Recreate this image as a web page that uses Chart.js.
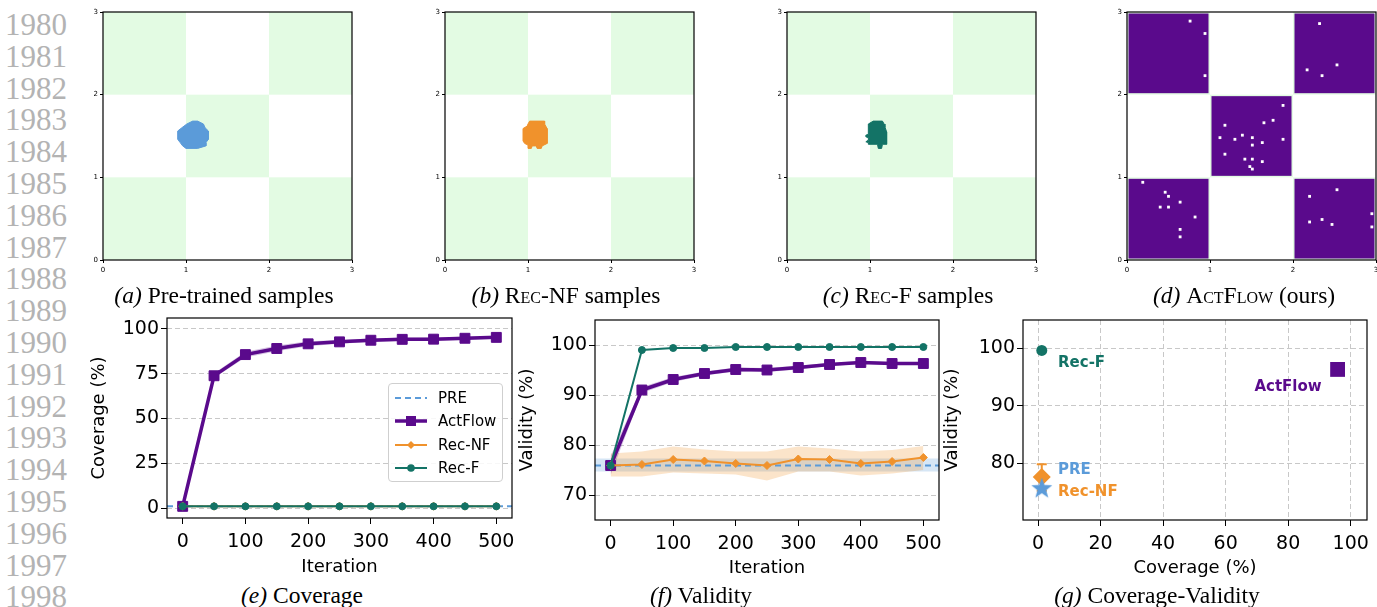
<!DOCTYPE html>
<html>
<head>
<meta charset="utf-8">
<script src="https://cdn.jsdelivr.net/npm/chart.js@4.4.1/dist/chart.umd.min.js"></script>
<style>
  body { margin: 0; background: #fff; }
  #page { position: relative; width: 1377px; height: 607px; overflow: hidden; background: #fff; }
  canvas { position: absolute; }
  #lineNo { position: absolute; left: 5px; top: 9px; font: 31px 'Liberation Serif', serif; line-height: 31.8px; color: #b3b3b3; }
  .cap { position: absolute; font: 23.5px 'Liberation Serif', serif; line-height: 1; white-space: nowrap; transform: translateX(-50%); color: #000; }
  .sc { font-variant: small-caps; }
  #legend { position: absolute; left: 388px; top: 383px; width: 113px; height: 97px; border: 1px solid #cfcfcf; border-radius: 4px; background: rgba(255,255,255,0.85); font: 15px 'DejaVu Sans', sans-serif; }
  #legend .row { position: absolute; left: 6px; height: 20px; display: flex; align-items: center; }
  #legend svg { margin-right: 11px; }
</style>
</head>
<body>
<div id="page">
  <div id="lineNo"></div>
  <canvas id="chartA"></canvas>
  <canvas id="chartB"></canvas>
  <canvas id="chartC"></canvas>
  <canvas id="chartD"></canvas>
  <canvas id="chartE"></canvas>
  <canvas id="chartF"></canvas>
  <canvas id="chartG"></canvas>
  <div id="legend"></div>
  <div class="cap" style="left:224px;top:284px"><i>(a)</i> Pre-trained samples</div>
  <div class="cap" style="left:566px;top:284px"><i>(b)</i> <span class="sc">Rec-NF</span> samples</div>
  <div class="cap" style="left:908px;top:284px"><i>(c)</i> <span class="sc">Rec-F</span> samples</div>
  <div class="cap" style="left:1244px;top:284px"><i>(d)</i> <span class="sc">ActFlow</span> (ours)</div>
  <div class="cap" style="left:302px;top:584px"><i>(e)</i> Coverage</div>
  <div class="cap" style="left:701px;top:584px"><i>(f)</i> Validity</div>
  <div class="cap" style="left:1157px;top:584px"><i>(g)</i> Coverage-Validity</div>
</div>
<script>
'use strict';

const lineNumbers = ['1980', '1981', '1982', '1983', '1984', '1985', '1986', '1987', '1988', '1989',
                     '1990', '1991', '1992', '1993', '1994', '1995', '1996', '1997', '1998'];

// 위쪽: 체커보드 샘플
const unitTicks    = [0, 1, 2, 3];
const checkerCells = [[0, 0], [2, 0], [1, 1], [0, 2], [2, 2]];

const blobPre = [[1.08, 1.68], [1.14, 1.68], [1.21, 1.645], [1.23, 1.60], [1.27, 1.56], [1.27, 1.46],
  [1.24, 1.42], [1.24, 1.38], [1.14, 1.35], [1.00, 1.35], [0.96, 1.38], [0.93, 1.42], [0.90, 1.46],
  [0.90, 1.56], [0.95, 1.60], [1.01, 1.645]];
const blobRecNF = [[1.02, 1.68], [1.20, 1.68], [1.20, 1.645], [1.23, 1.59], [1.23, 1.41], [1.17, 1.38],
  [1.16, 1.35], [1.11, 1.35], [1.10, 1.38], [1.05, 1.38], [1.04, 1.35], [1.00, 1.35], [1.00, 1.39],
  [0.96, 1.41], [0.94, 1.44], [0.94, 1.59], [0.99, 1.62], [1.00, 1.645]];
const blobRecF = [[1.04, 1.68], [1.15, 1.68], [1.17, 1.645], [1.18, 1.61], [1.20, 1.55], [1.20, 1.40],
  [1.15, 1.40], [1.14, 1.35], [1.10, 1.35], [1.09, 1.40], [0.98, 1.40], [0.98, 1.42], [0.95, 1.43],
  [0.98, 1.45], [0.98, 1.48], [0.95, 1.49], [0.95, 1.51], [0.98, 1.52], [0.98, 1.645]];
const actflowHoles = [[0.76, 2.89], [2.32, 2.86], [2.53, 2.36], [2.17, 2.30], [2.35, 2.23], [0.94, 2.74],
  [0.94, 2.23], [1.18, 1.63], [1.76, 1.69], [1.65, 1.66], [1.39, 1.51], [1.51, 1.48], [1.30, 1.46],
  [1.12, 1.48], [1.88, 1.46], [1.63, 1.42], [1.51, 1.39], [1.18, 1.28], [1.42, 1.22], [1.51, 1.22],
  [1.63, 1.19], [1.48, 1.13], [1.51, 1.10], [1.88, 1.87], [0.19, 0.94], [0.46, 0.82], [0.50, 0.77],
  [0.40, 0.64], [0.50, 0.64], [0.64, 0.70], [0.82, 0.52], [0.64, 0.37], [0.64, 0.28], [2.53, 0.85],
  [2.20, 0.77], [2.35, 0.49], [2.20, 0.46], [2.47, 0.43], [2.95, 0.56], [2.95, 0.40]];

// 아래쪽: 반복별 coverage / validity
const iterations = [0, 50, 100, 150, 200, 250, 300, 350, 400, 450, 500];
const iterLimits = [-25, 525];
const iterTicks  = [0, 100, 200, 300, 400, 500];

const covTicks     = [0, 25, 50, 75, 100];
const covActFlow   = [1.0, 73.8, 85.6, 89.0, 91.6, 92.7, 93.6, 94.1, 94.2, 94.7, 95.2];
const covActFlowLo = [0.8, 72.5, 84.0, 87.5, 90.3, 91.6, 92.6, 93.2, 93.3, 93.8, 94.4];
const covActFlowHi = [1.2, 75.2, 87.2, 90.6, 93.0, 93.8, 94.6, 95.0, 95.1, 95.6, 96.0];
const covRecNF     = [1.1, 1.1, 1.1, 1.1, 1.1, 1.1, 1.1, 1.1, 1.1, 1.1, 1.1];
const covRecF      = [1.0, 1.0, 1.0, 1.0, 1.0, 1.0, 1.0, 1.0, 1.0, 1.0, 1.0];
const covPre       = 1.1;

const valTicks     = [70, 80, 90, 100];
const valActFlow   = [75.9, 91.0, 93.1, 94.3, 95.1, 95.0, 95.5, 96.1, 96.5, 96.3, 96.3];
const valActFlowLo = [74.0, 90.4, 92.6, 93.9, 94.7, 94.6, 95.1, 95.8, 96.2, 96.0, 96.0];
const valActFlowHi = [77.8, 91.6, 93.6, 94.7, 95.5, 95.4, 95.9, 96.4, 96.8, 96.6, 96.6];
const valRecF      = [75.9, 99.0, 99.4, 99.4, 99.6, 99.6, 99.6, 99.6, 99.6, 99.6, 99.6];
const valRecNF     = [75.9, 76.1, 77.1, 76.8, 76.3, 75.9, 77.2, 77.1, 76.3, 76.7, 77.5];
const valRecNFLo   = [73.7, 73.7, 74.5, 74.3, 74.1, 72.9, 74.7, 74.7, 73.9, 74.3, 75.0];
const valRecNFHi   = [78.3, 78.7, 79.7, 79.1, 78.7, 78.7, 79.7, 79.3, 78.7, 79.0, 79.8];
const valPre       = 75.9;
const valPreBand   = [74.7, 77.3];

// (g) coverage-validity
const cvMethods  = ['PRE', 'ActFlow', 'Rec-NF', 'Rec-F'];
const cvCoverage = [1.2, 95.8, 1.2, 1.2];
const cvValidity = [75.8, 96.3, 77.6, 99.6];
const cvRecNFErr = [75.2, 79.8];
const cvLabelX   = [6.4, 69.2, 6.4, 6.4];
const cvLabelY   = [78.8, 93.3, 75.0, 97.4];
const cvTicksX   = [0, 20, 40, 60, 80, 100];
const cvTicksY   = [80, 90, 100];

const C_PURPLE = '#5a0a8c';
const C_TEAL   = '#137366';
const C_ORANGE = '#f0922c';
const C_BLUE   = '#5b9bd9';
const C_CELL   = '#e3fbe3';
const C_GRID   = '#c8c8c8';
const methodColors = [C_BLUE, C_PURPLE, C_ORANGE, C_TEAL];

Chart.defaults.font.family = "'DejaVu Sans', sans-serif";
Chart.defaults.color = '#000';

// 줄번호
document.getElementById('lineNo').innerHTML = lineNumbers.map(n => `<div>${n}</div>`).join('');

const pts  = (xs, ys) => xs.map((x, i) => ({ x, y: ys[i] }));
const poly = arr => arr.concat([arr[0]]).map(([x, y]) => ({ x, y }));

function place(id, left, top, width, height) {
  const cv = document.getElementById(id);
  cv.width = width;
  cv.height = height;
  cv.style.left = left + 'px';
  cv.style.top = top + 'px';
  return cv;
}

function axisOpts(cfg) {
  return {
    type: 'linear',
    min: cfg.min, max: cfg.max,
    afterBuildTicks: s => { s.ticks = cfg.ticks.map(v => ({ value: v })); },
    afterFit: s => { if (s.isHorizontal()) s.height = cfg.size; else s.width = cfg.size; },
    border: { display: false, dash: [5, 3] },
    grid: {
      drawOnChartArea: !!cfg.grid,
      color: C_GRID, lineWidth: 1,
      tickLength: cfg.tickLength, tickColor: '#000', tickWidth: 1, tickBorderDash: []
    },
    ticks: { color: '#000', font: { size: cfg.fontSize }, padding: cfg.pad, maxRotation: 0, autoSkip: false },
    title: cfg.title
      ? { display: true, text: cfg.title, color: '#000', font: { size: 18 }, padding: { top: 1, bottom: 0 } }
      : { display: false }
  };
}

// 축 테두리 (4면)
const framePlugin = {
  id: 'frame',
  afterDatasetsDraw(chart) {
    const { ctx, chartArea: a } = chart;
    ctx.save();
    ctx.strokeStyle = '#000';
    ctx.lineWidth = 1.2;
    ctx.strokeRect(a.left, a.top, a.right - a.left, a.bottom - a.top);
    ctx.restore();
  }
};

function makeChecker(layers) {
  return {
    id: 'checker',
    beforeDatasetsDraw(chart) {
      const { ctx, scales: { x, y } } = chart;
      ctx.save();
      layers.forEach(layer => {
        ctx.fillStyle = layer.color;
        checkerCells.forEach(([cx, cy]) => {
          const l = x.getPixelForValue(cx + layer.inset);
          const r = x.getPixelForValue(cx + 1 - layer.inset);
          const t = y.getPixelForValue(cy + 1 - layer.inset);
          const b = y.getPixelForValue(cy + layer.inset);
          ctx.fillRect(l, t, r - l, b - t);
        });
      });
      ctx.restore();
    }
  };
}

const baseOpts = {
  responsive: false,
  animation: false,
  devicePixelRatio: 1,
  events: [],
};

// 위쪽 패널
function topChart(id, plotLeft, layers, datasets) {
  const cv = place(id, plotLeft - 20, 0, 277, 276);
  return new Chart(cv, {
    type: 'line',
    data: { datasets },
    options: {
      ...baseOpts,
      layout: { autoPadding: false, padding: { top: 12, right: 8, left: 0, bottom: 0 } },
      plugins: { legend: { display: false }, tooltip: { enabled: false } },
      scales: {
        x: axisOpts({ min: 0, max: 3, ticks: unitTicks, size: 16, fontSize: 7, tickLength: 3, pad: 3 }),
        y: axisOpts({ min: 0, max: 3, ticks: unitTicks, size: 20, fontSize: 7, tickLength: 3, pad: 2 })
      }
    },
    plugins: [makeChecker(layers), framePlugin]
  });
}

function blobSet(points, color) {
  return {
    data: poly(points), fill: 'shape', backgroundColor: color, borderColor: color,
    borderWidth: 1, pointRadius: 0, tension: 0
  };
}

const greenLayer = [{ color: C_CELL, inset: 0 }];
topChart('chartA', 103, greenLayer, [blobSet(blobPre, C_BLUE)]);
topChart('chartB', 445, greenLayer, [blobSet(blobRecNF, C_ORANGE)]);
topChart('chartC', 787, greenLayer, [blobSet(blobRecF, C_TEAL)]);
topChart('chartD', 1127, [{ color: C_CELL, inset: 0 }, { color: C_PURPLE, inset: 0.018 }], [{
  data: actflowHoles.map(([x, y]) => ({ x, y })), showLine: false,
  pointStyle: 'rect', pointRadius: 2, borderWidth: 0, backgroundColor: '#fff'
}]);

// 아래쪽 (e), (f)
function band(hi, lo, color, order) {
  return [
    { data: hi, fill: '+1', backgroundColor: color, borderWidth: 0, pointRadius: 0, order },
    { data: lo, fill: false, borderWidth: 0, pointRadius: 0, order: order + 1 }
  ];
}
function series(data, color, width, style, radius, order) {
  return {
    data, borderColor: color, backgroundColor: color, borderWidth: width,
    pointStyle: style, pointRadius: radius, pointBorderWidth: 1, fill: false, tension: 0, order
  };
}
function preLine(value, order) {
  return {
    data: iterLimits.map(x => ({ x, y: value })), borderColor: C_BLUE, borderWidth: 2,
    borderDash: [6, 4], pointRadius: 0, fill: false, order
  };
}

function iterChart(id, left, width, height, padTop, yWidth, yCfg, datasets) {
  const cv = place(id, left, 300, width, height);
  return new Chart(cv, {
    type: 'line',
    data: { datasets },
    options: {
      ...baseOpts,
      layout: { autoPadding: false, padding: { top: padTop, right: 18, left: 0, bottom: 0 } },
      plugins: { legend: { display: false }, tooltip: { enabled: false } },
      scales: {
        x: axisOpts({ min: iterLimits[0], max: iterLimits[1], ticks: iterTicks, size: height - padTop - 200,
                      fontSize: 19, tickLength: 6, pad: 7, title: 'Iteration' }),
        y: axisOpts({ ...yCfg, size: yWidth, fontSize: 19, tickLength: 6, pad: 2, grid: true })
      }
    },
    plugins: [framePlugin]
  });
}

iterChart('chartE', 88, 442, 278, 18, 79,
  { min: -5.5, max: 106, ticks: covTicks, title: 'Coverage (%)' },
  [
    ...band(pts(iterations, covActFlowHi), pts(iterations, covActFlowLo), 'rgba(90,10,140,0.25)', 20),
    preLine(covPre, 5),
    series(pts(iterations, covActFlow), C_PURPLE, 3.5, 'rect', 7, 4),
    series(pts(iterations, covRecNF), C_ORANGE, 2, 'rectRot', 4, 3),
    series(pts(iterations, covRecF), C_TEAL, 2, 'circle', 3.5, 2)
  ]);

iterChart('chartF', 516, 441, 279, 20, 79,
  { min: 65, max: 105, ticks: valTicks, title: 'Validity (%)' },
  [
    ...band(iterLimits.map(x => ({ x, y: valPreBand[1] })), iterLimits.map(x => ({ x, y: valPreBand[0] })),
            'rgba(91,155,217,0.25)', 30),
    ...band(pts(iterations, valRecNFHi), pts(iterations, valRecNFLo), 'rgba(240,146,44,0.25)', 24),
    ...band(pts(iterations, valActFlowHi), pts(iterations, valActFlowLo), 'rgba(90,10,140,0.25)', 20),
    preLine(valPre, 5),
    series(pts(iterations, valActFlow), C_PURPLE, 3.5, 'rect', 7, 4),
    series(pts(iterations, valRecNF), C_ORANGE, 2, 'rectRot', 4, 3),
    series(pts(iterations, valRecF), C_TEAL, 2, 'circle', 3.5, 2)
  ]);

// (e) 범례
const legendStyles = [
  { width: 2, dash: '6,4', marker: '' },
  { width: 3.5, dash: '', marker: 'rect' },
  { width: 2, dash: '', marker: 'diamond' },
  { width: 2, dash: '', marker: 'circle' }
];
document.getElementById('legend').innerHTML = cvMethods.map((name, i) => {
  const st = legendStyles[i];
  const c = methodColors[i];
  let mk = '';
  if (st.marker === 'rect') mk = `<rect x="11" y="5" width="10" height="10" fill="${c}"/>`;
  if (st.marker === 'diamond') mk = `<polygon points="16,6 20,10 16,14 12,10" fill="${c}"/>`;
  if (st.marker === 'circle') mk = `<circle cx="16" cy="10" r="3.8" fill="${c}"/>`;
  return `<div class="row" style="top:${4 + i * 23.3}px">
    <svg width="32" height="20"><line x1="0" y1="10" x2="32" y2="10" stroke="${c}" stroke-width="${st.width}"
      ${st.dash ? `stroke-dasharray="${st.dash}"` : ''}/>${mk}</svg><span>${name}</span></div>`;
}).join('');

// (g) coverage-validity
function starImage(color, R) {
  const c = document.createElement('canvas');
  const s = Math.ceil(R * 2 + 2);
  c.width = s; c.height = s;
  const g = c.getContext('2d');
  g.fillStyle = color;
  g.beginPath();
  for (let k = 0; k < 10; k++) {
    const r = k % 2 ? R * 0.42 : R;
    const a = -Math.PI / 2 + k * Math.PI / 5;
    g.lineTo(s / 2 + r * Math.cos(a), s / 2 + 1.5 + r * Math.sin(a));
  }
  g.closePath();
  g.fill();
  return c;
}

const cvTextPlugin = {
  id: 'cvText',
  afterDatasetsDraw(chart) {
    const { ctx, scales: { x, y } } = chart;
    ctx.save();
    ctx.font = "bold 15px 'DejaVu Sans'";
    ctx.textBaseline = 'middle';
    ctx.textAlign = 'left';
    cvMethods.forEach((name, i) => {
      ctx.fillStyle = methodColors[i];
      ctx.fillText(name, x.getPixelForValue(cvLabelX[i]), y.getPixelForValue(cvLabelY[i]));
    });
    ctx.restore();
  }
};

const cvPoint = i => [{ x: cvCoverage[i], y: cvValidity[i] }];
new Chart(place('chartG', 941, 300, 436, 279), {
  type: 'line',
  data: {
    datasets: [
      { data: cvPoint(0), showLine: false, pointStyle: starImage(C_BLUE, 11), order: 1 },
      { data: cvPoint(2), showLine: false, pointStyle: 'rectRot', pointRadius: 9, pointBorderWidth: 0,
        backgroundColor: C_ORANGE, order: 2 },
      { data: cvRecNFErr.map(y => ({ x: cvCoverage[2], y })), borderColor: C_ORANGE, borderWidth: 2,
        pointStyle: 'line', pointRadius: 5, pointBorderWidth: 2, pointBorderColor: C_ORANGE, order: 3 },
      { data: cvPoint(1), showLine: false, pointStyle: 'rect', pointRadius: 10.5, pointBorderWidth: 0,
        backgroundColor: C_PURPLE, order: 4 },
      { data: cvPoint(3), showLine: false, pointStyle: 'circle', pointRadius: 5.5, pointBorderWidth: 0,
        backgroundColor: C_TEAL, order: 5 }
    ]
  },
  options: {
    ...baseOpts,
    layout: { autoPadding: false, padding: { top: 20, right: 10, left: 0, bottom: 0 } },
    plugins: { legend: { display: false }, tooltip: { enabled: false } },
    scales: {
      x: axisOpts({ min: -4.8, max: 105.2, ticks: cvTicksX, size: 59, fontSize: 19, tickLength: 6, pad: 7,
                    grid: true, title: 'Coverage (%)' }),
      y: axisOpts({ min: 70.1, max: 104.9, ticks: cvTicksY, size: 82, fontSize: 19, tickLength: 6, pad: 2,
                    grid: true, title: 'Validity (%)' })
    }
  },
  plugins: [cvTextPlugin, framePlugin]
});
</script>
</body>
</html>
